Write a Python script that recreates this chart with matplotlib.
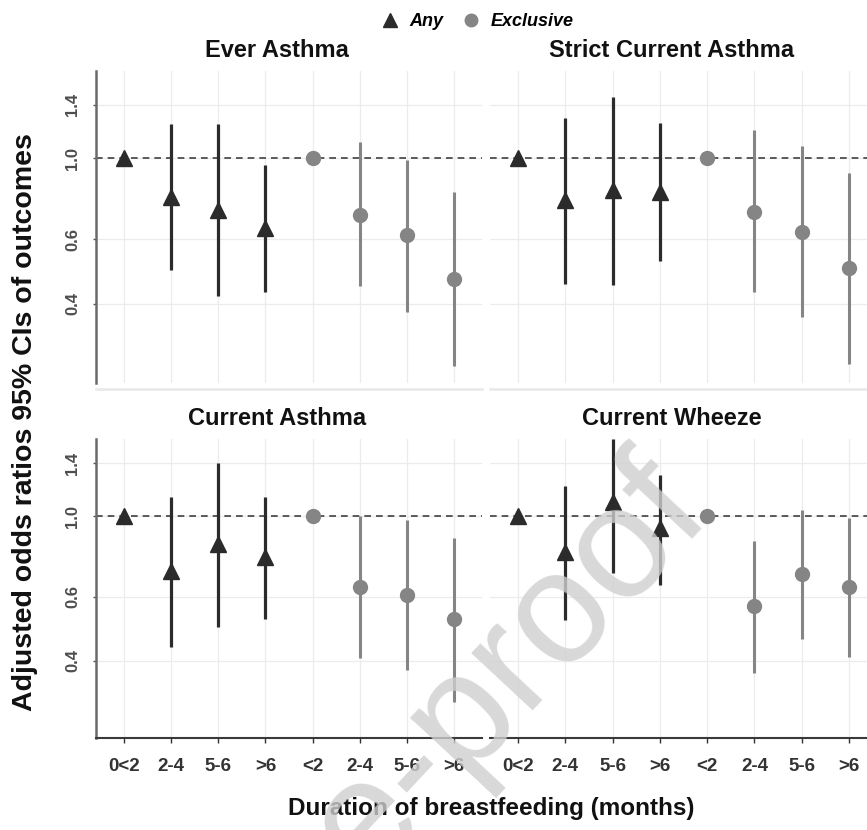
import matplotlib
matplotlib.use("Agg")
import matplotlib.pyplot as plt
from matplotlib.lines import Line2D
import numpy as np

plt.rcParams["font.family"] = ["Liberation Sans", "DejaVu Sans"]

# duration categories: first four = any breastfeeding, last four = exclusive
categories = ["0<2", "2-4", "5-6", ">6", "<2", "2-4", "5-6", ">6"]
panels = ["Ever Asthma", "Strict Current Asthma", "Current Asthma", "Current Wheeze"]

# adjusted odds ratios with 95% CI
ever_any_or = [1.0, 0.785, 0.72, 0.644]
ever_any_lo = [1.0, 0.495, 0.42, 0.43]
ever_any_hi = [1.0, 1.24, 1.24, 0.96]
ever_excl_or = [1.0, 0.70, 0.617, 0.468]
ever_excl_lo = [1.0, 0.448, 0.381, 0.271]
ever_excl_hi = [1.0, 1.11, 0.99, 0.806]

strict_any_or = [1.0, 0.77, 0.82, 0.81]
strict_any_lo = [1.0, 0.453, 0.451, 0.522]
strict_any_hi = [1.0, 1.286, 1.47, 1.246]
strict_excl_or = [1.0, 0.713, 0.628, 0.50]
strict_excl_lo = [1.0, 0.43, 0.367, 0.274]
strict_excl_hi = [1.0, 1.19, 1.076, 0.91]

curr_any_or = [1.0, 0.706, 0.84, 0.773]
curr_any_lo = [1.0, 0.437, 0.496, 0.52]
curr_any_hi = [1.0, 1.13, 1.40, 1.13]
curr_excl_or = [1.0, 0.64, 0.606, 0.52]
curr_excl_lo = [1.0, 0.406, 0.376, 0.307]
curr_excl_hi = [1.0, 1.0, 0.975, 0.868]

wheeze_any_or = [1.0, 0.795, 1.095, 0.925]
wheeze_any_lo = [1.0, 0.518, 0.696, 0.646]
wheeze_any_hi = [1.0, 1.21, 1.63, 1.30]
wheeze_excl_or = [1.0, 0.566, 0.691, 0.64]
wheeze_excl_lo = [1.0, 0.371, 0.458, 0.41]
wheeze_excl_hi = [1.0, 0.855, 1.04, 0.985]

y_ticks = [0.4, 0.6, 1.0, 1.4]
y_ticklabels = ["0.4", "0.6", "1.0", "1.4"]

ANY_COLOR = "#2b2b2b"
EXCL_COLOR = "#858585"

data = [
    (ever_any_or, ever_any_lo, ever_any_hi, ever_excl_or, ever_excl_lo, ever_excl_hi),
    (strict_any_or, strict_any_lo, strict_any_hi, strict_excl_or, strict_excl_lo, strict_excl_hi),
    (curr_any_or, curr_any_lo, curr_any_hi, curr_excl_or, curr_excl_lo, curr_excl_hi),
    (wheeze_any_or, wheeze_any_lo, wheeze_any_hi, wheeze_excl_or, wheeze_excl_lo, wheeze_excl_hi),
]

W, H = 867, 830
fig = plt.figure(figsize=(W / 100, H / 100), dpi=100)

def px_axes(x0, y0, x1, y1):
    return fig.add_axes([x0 / W, 1 - y1 / H, (x1 - x0) / W, (y1 - y0) / H])

boxes = [(96, 71, 482, 383), (490, 71, 877, 383),
         (96, 439, 482, 738), (490, 439, 877, 738)]
ylims = [(0.243, 1.73), (0.243, 1.73), (0.245, 1.63), (0.245, 1.63)]

x = np.arange(1, len(categories) + 1)
x_any = x[:4]
x_excl = x[4:]

for i, (title, box, d) in enumerate(zip(panels, boxes, data)):
    ax = px_axes(*box)
    a_or, a_lo, a_hi, e_or, e_lo, e_hi = d
    ax.set_yscale("log")
    ax.set_ylim(*ylims[i])
    ax.set_xlim(0.406, 8.593)

    for xv in x:
        ax.axvline(xv, color="#ececec", lw=0.9, zorder=0)
    for yv in y_ticks:
        ax.axhline(yv, color="#ececec", lw=0.9, zorder=0)
    ax.axhline(1.0, color="#404040", lw=1.2, ls=(0, (4, 3)), zorder=1)

    ax.vlines(x_any, a_lo, a_hi, color=ANY_COLOR, lw=2.3, zorder=2)
    ax.vlines(x_excl, e_lo, e_hi, color=EXCL_COLOR, lw=2.2, zorder=2)
    ax.plot(x_any, a_or, ls="none", marker="^", ms=12, color=ANY_COLOR, zorder=3)
    ax.plot(x_excl, e_or, ls="none", marker="o", ms=10, color=EXCL_COLOR, zorder=3)

    ax.annotate(title, xy=(0.47, 1.0), xycoords="axes fraction",
                xytext=(0, 14.5), textcoords="offset points",
                ha="center", va="center", fontsize=17, fontweight="bold", color="#111111")

    ax.set_yticks(y_ticks)
    ax.minorticks_off()
    ax.set_xticks(x)
    for s in ["top", "right"]:
        ax.spines[s].set_visible(False)

    left_col = i in (0, 2)
    bottom_row = i in (2, 3)

    if left_col:
        ax.spines["left"].set_color("#6a6a6a")
        ax.spines["left"].set_linewidth(1.8)
        ax.set_yticklabels(y_ticklabels)
        ax.tick_params(axis="y", length=2.5, width=1, color="#555555", pad=9,
                       labelsize=12, labelcolor="#4d4d4d", labelrotation=90)
        for lab in ax.get_yticklabels():
            lab.set_verticalalignment("center")
            lab.set_fontweight("bold")
    else:
        ax.spines["left"].set_visible(False)
        ax.tick_params(axis="y", left=False, labelleft=False)

    if bottom_row:
        ax.spines["bottom"].set_color("#3a3a3a")
        ax.spines["bottom"].set_linewidth(1.5)
        ax.set_xticklabels(categories)
        ax.tick_params(axis="x", length=3.5, width=1, color="#333333", pad=11,
                       labelsize=13.5, labelcolor="#333333")
        for lab in ax.get_xticklabels():
            lab.set_fontweight("bold")
    else:
        ax.spines["bottom"].set_color("#e8e8e8")
        ax.spines["bottom"].set_linewidth(1.8)
        ax.spines["bottom"].set_position(("outward", 4))
        ax.tick_params(axis="x", bottom=False, labelbottom=False)

fig.text(25 / W, 1 - 422 / H, "Adjusted odds ratios 95% CIs of outcomes",
         rotation=90, ha="center", va="center", fontsize=20.5, fontweight="bold", color="#111111")
fig.text(491 / W, 1 - 808 / H, "Duration of breastfeeding (months)",
         ha="center", va="center", fontsize=17.5, fontweight="bold", color="#111111")

handles = [Line2D([], [], ls="none", marker="^", ms=10, color=ANY_COLOR),
           Line2D([], [], ls="none", marker="o", ms=9, color=EXCL_COLOR)]
fig.legend(handles, ["Any", "Exclusive"], loc="center", bbox_to_anchor=(477 / W, 1 - 22 / H),
           ncol=2, frameon=False, handlelength=1.0, handletextpad=0.6, columnspacing=1.0,
           prop=dict(weight="bold", style="italic", size=13))

# "Journal Pre-proof" watermark
fig.text(683 / W, 1 - 488 / H, "Journal Pre-proof", rotation=47, rotation_mode="anchor",
         ha="right", va="center", fontsize=115, color="#cfcfcf", alpha=0.8, zorder=10)

fig.savefig("out.png", dpi=100)
